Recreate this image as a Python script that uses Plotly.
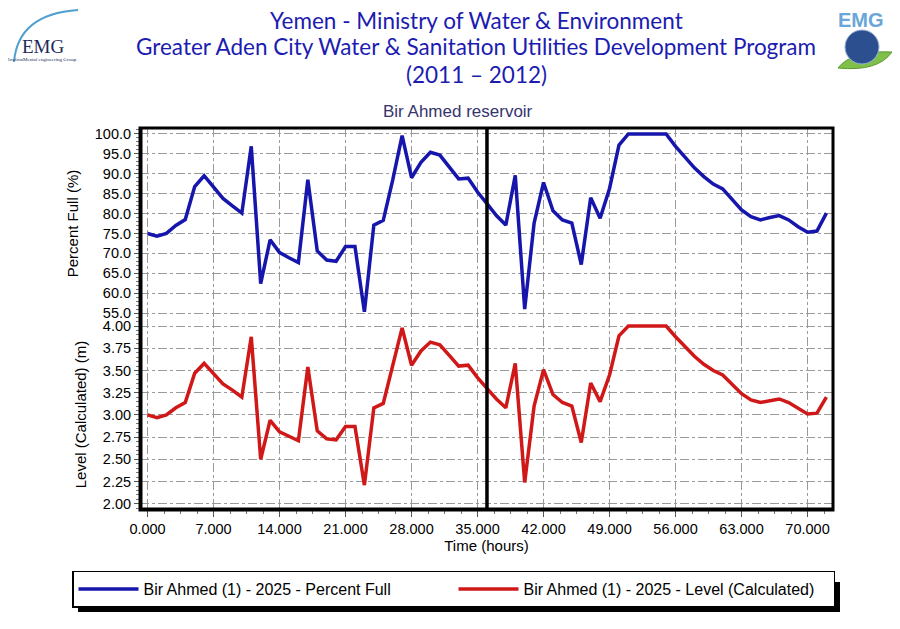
"""
Bir Ahmed reservoir - percent full and calculated level over 72 hours.
"""
import plotly.graph_objects as go
from plotly.subplots import make_subplots

# time axis (hours)
hours = list(range(0, 73))

# Bir Ahmed (1) - 2025 - Percent Full
percent_full = [
    75.0, 74.3, 75.0, 77.0, 78.5, 86.8, 89.5, 86.8, 83.8, 81.9,
    80.1, 96.9, 62.4, 73.4, 70.2, 68.9, 67.7, 88.5, 70.6, 68.3,
    68.0, 71.7, 71.7, 55.3, 77.1, 78.3, 88.4, 99.6, 89.0, 92.9,
    95.4, 94.7, 91.8, 88.7, 88.9, 85.4, 82.5, 79.5, 77.1, 89.6,
    56.0, 77.6, 87.8, 80.7, 78.4, 77.6, 67.2, 84.0, 78.8, 86.3,
    97.2, 100.0, 100.0, 100.0, 100.0, 100.0, 96.9, 94.3, 91.5, 89.3,
    87.4, 86.2, 83.4, 80.9, 79.2, 78.4, 79.0, 79.5, 78.4, 76.7,
    75.3, 75.6, 80.1,
]

# Bir Ahmed (1) - 2025 - Level (Calculated), metres
level_m = [
    3.00, 2.97, 3.00, 3.08, 3.14, 3.47, 3.58, 3.47, 3.35, 3.28,
    3.20, 3.88, 2.50, 2.94, 2.81, 2.76, 2.71, 3.54, 2.82, 2.73,
    2.72, 2.87, 2.87, 2.21, 3.08, 3.13, 3.54, 3.98, 3.56, 3.72,
    3.82, 3.79, 3.67, 3.55, 3.56, 3.42, 3.30, 3.18, 3.08, 3.58,
    2.24, 3.10, 3.51, 3.23, 3.14, 3.10, 2.69, 3.36, 3.15, 3.45,
    3.89, 4.00, 4.00, 4.00, 4.00, 4.00, 3.88, 3.77, 3.66, 3.57,
    3.50, 3.45, 3.34, 3.24, 3.17, 3.14, 3.16, 3.18, 3.14, 3.07,
    3.01, 3.02, 3.20,
]

marker_hour = 36  # thick black line

header_lines = [
    "Yemen - Ministry of Water & Environment",
    "Greater Aden City Water & Sanitation Utilities Development Program",
    "(2011 – 2012)",
]

# the page has an 8px body margin, so work in page pixels and shift
OFF = 8
W, H = 900 - OFF, 629 - OFF
L, R, T, B = 140 - OFF, 833 - OFF, 128 - OFF, 510 - OFF


def px(x):
    return (x - OFF - L) / (R - L)


def py(y):
    return (B - (y - OFF)) / (B - T)


fig = make_subplots(rows=2, cols=1, shared_xaxes=True, vertical_spacing=0)

fig.add_trace(
    go.Scatter(x=hours, y=percent_full, mode="lines",
               name="Bir Ahmed (1) - 2025 - Percent Full",
               line=dict(color="#1616ac", width=3.5)),
    row=1, col=1,
)
fig.add_trace(
    go.Scatter(x=hours, y=level_m, mode="lines",
               name="Bir Ahmed (1) - 2025 - Level (Calculated)",
               line=dict(color="#d01818", width=3.5)),
    row=2, col=1,
)

tick_font = dict(family="Liberation Sans, Arial", size=14.5, color="black")
title_font = dict(family="Liberation Sans, Arial", size=15, color="black")
grid = dict(showgrid=True, gridcolor="#9a9a9a", griddash="dashdot", gridwidth=1)

x_common = dict(
    range=[-0.8, 72.7], tick0=0, dtick=7, tickformat=".3f",
    ticks="outside", ticklen=6, tickcolor="#555", showline=False, zeroline=False,
    minor=dict(dtick=1.75, ticks="outside", ticklen=3, tickcolor="#777", showgrid=False),
    **grid,
)
fig.update_xaxes(**x_common)
fig.update_xaxes(showticklabels=False, ticks="", minor_ticks="", row=1, col=1)
fig.update_xaxes(
    tickfont=tick_font,
    title=dict(text="Time (hours)", font=title_font, standoff=3),
    row=2, col=1,
)

fig.update_yaxes(
    domain=[0.5, 1.0], range=[53.5, 101.5], tick0=55, dtick=5, tickformat=".1f",
    ticks="outside", ticklen=5, tickcolor="#555", zeroline=False, tickfont=tick_font,
    minor=dict(dtick=1, ticks="outside", ticklen=3, tickcolor="#777", showgrid=False),
    title=dict(text="Percent Full (%)", font=title_font, standoff=12),
    row=1, col=1, **grid,
)
fig.update_yaxes(
    domain=[0.0, 0.5], range=[1.93, 4.08], tick0=2, dtick=0.25, tickformat=".2f",
    ticks="outside", ticklen=5, tickcolor="#555", zeroline=False, tickfont=tick_font,
    minor=dict(dtick=0.05, ticks="outside", ticklen=3, tickcolor="#777", showgrid=False),
    title=dict(text="Level (Calculated) (m)", font=title_font, standoff=12),
    row=2, col=1, **grid,
)

shapes = [
    # plot frame
    dict(type="rect", xref="paper", yref="paper", x0=0, x1=1, y0=0, y1=1,
         line=dict(color="black", width=3), layer="above"),
    dict(type="line", xref="paper", yref="paper", x0=px(141), x1=px(141), y0=0, y1=1,
         line=dict(color="black", width=3), layer="above"),
    dict(type="line", xref="paper", yref="paper", x0=0, x1=1, y0=py(509), y1=py(509),
         line=dict(color="black", width=3), layer="above"),
    # legend shadow
    dict(type="rect", xref="paper", yref="paper", x0=px(78), x1=px(840), y0=py(612), y1=py(582),
         fillcolor="black", line=dict(width=0)),
    # left logo arc
    dict(type="path", xref="paper", yref="paper",
         path=f"M {px(14)},{py(62)} Q {px(18)},{py(14)} {px(78)},{py(10)}",
         line=dict(color="#4f9fcf", width=2)),
    # right logo globe and leaf
    dict(type="path", xref="paper", yref="paper",
         path=f"M {px(838)},{py(68)} Q {px(852)},{py(50)} {px(892)},{py(52)} "
              f"Q {px(878)},{py(72)} {px(838)},{py(68)} Z",
         fillcolor="#7fbf4a", line=dict(color="#5a9a30", width=1)),
    dict(type="circle", xref="paper", yref="paper",
         x0=px(845), x1=px(879), y0=py(64), y1=py(30),
         fillcolor="#2c4f8f", line=dict(color="#9ab4d8", width=1)),
]
# marker line at 36 h spanning both panels
for ax in ("x", "x2"):
    shapes.append(dict(type="line", xref=ax, yref="paper", x0=marker_hour, x1=marker_hour,
                       y0=0, y1=1, line=dict(color="black", width=3), layer="above"))

header_y = [21, 47, 74]
annotations = []
for text, y in zip(header_lines, header_y):
    annotations.append(dict(
        text=text, x=px(476), y=py(y), xref="paper", yref="paper",
        xanchor="center", yanchor="middle", showarrow=False,
        font=dict(family="Lato", size=22.5, color="#1c1cb0"),
    ))
annotations += [
    dict(text="Bir Ahmed reservoir", x=px(458), y=py(111), xref="paper", yref="paper",
         xanchor="center", yanchor="middle", showarrow=False,
         font=dict(family="Liberation Sans, Arial", size=17, color="#35356e")),
    dict(text="EMG", x=px(43), y=py(46), xref="paper", yref="paper",
         xanchor="center", yanchor="middle", showarrow=False,
         font=dict(family="Liberation Serif", size=19, color="#1d2a5a")),
    dict(text="EnvironMental engineering Group", x=px(42), y=py(60), xref="paper", yref="paper",
         xanchor="center", yanchor="middle", showarrow=False,
         font=dict(family="Liberation Serif", size=5, color="#1d2a5a")),
    dict(text="<b>EMG</b>", x=px(861), y=py(20), xref="paper", yref="paper",
         xanchor="center", yanchor="middle", showarrow=False,
         font=dict(family="Liberation Sans", size=20, color="#6aa6d8")),
]

fig.update_layout(
    width=W, height=H,
    margin=dict(l=L, r=W - R, t=T, b=H - B),
    paper_bgcolor="white", plot_bgcolor="white",
    shapes=shapes, annotations=annotations,
    showlegend=True,
    legend=dict(
        orientation="h", x=px(72), xanchor="left", y=py(589), yanchor="middle",
        bgcolor="white", bordercolor="black", borderwidth=1.5,
        font=dict(family="Liberation Sans, Arial", size=16, color="black"),
        entrywidth=305, entrywidthmode="pixels", itemwidth=60,
        tracegroupgap=0,
    ),
)

fig.write_html("out.html")
